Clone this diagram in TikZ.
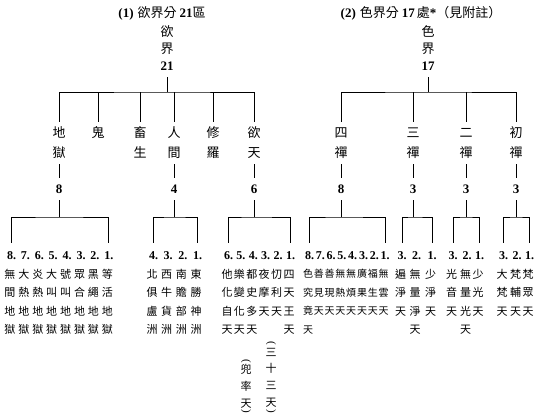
\documentclass[tikz,border=0pt]{standalone}
\usepackage{fontspec}
\setmainfont{Liberation Serif}
\newfontfamily\cjk{Noto Sans CJK TC}
\newfontfamily\numf{Liberation Serif}
\tikzset{
  every node/.style={inner sep=0pt},
  cjkL/.style={font=\cjk\fontsize{13}{13}\selectfont, text height=11.2pt, text depth=1.3pt, inner ysep=5pt},
  numL/.style={font=\numf\bfseries\fontsize{13}{13}\selectfont, text height=8.8pt, text depth=0pt, inner ysep=6.5pt},
  cell/.style={font=\cjk\fontsize{11}{11}\selectfont, text height=9.5pt, text depth=1.1pt},
  cellS/.style={font=\cjk\fontsize{10}{10}\selectfont, text height=8.6pt, text depth=1pt},
  numS/.style={font=\numf\bfseries\fontsize{12}{12}\selectfont, text height=8.2pt, text depth=0pt, inner ysep=8pt},
  parn/.style={font=\numf\fontsize{11}{11}\selectfont, rotate=-90},
  ttl/.style={font=\cjk\fontsize{13}{13}\selectfont},
  conn/.style={line width=0.9pt},
}
% #1 name, #2 cell style, #3 x, #4 number, #5 characters
\newcommand\colm[5]{%
  \node[numS] (#1) at (#3+1.5,255) {#4.};
  \foreach \chr [count=\r] in {#5} {\node[#2] (#1-\r) at (#3,{255.5+18.5*\r}) {\chr};}
}
\begin{document}
\begin{tikzpicture}[x=1pt,y=-1pt]
\useasboundingbox (0,0) rectangle (540,416);

% titles
\node[ttl] (t1) at (162,13) {{\numf\bfseries (1)}\hspace{4pt}欲界分\hspace{3pt}{\numf\bfseries 21}區};
\node[ttl] (t2) at (421,13) {{\numf\bfseries (2)}\hspace{4pt}色界分\hspace{3pt}{\numf\bfseries 17}\hspace{2pt}處{\numf\bfseries *}（見附註）};

% ===== left tree: 欲界 =====
\node[cjkL] (r1a) at (167,32) {欲};
\node[cjkL] (r1b) at (167,49) {界};
\node[numL] (r1n) at (167,66) {21};
\coordinate (r1bar) at (167,92);
\draw[conn] (r1n.south) -- (r1bar);

\node[cjkL] (k1a) at (59,133) {地};  \node[cjkL] (k1b) at (59,153) {獄};
\node[cjkL] (k2a) at (98,133) {鬼};
\node[cjkL] (k3a) at (140,133) {畜}; \node[cjkL] (k3b) at (140,153) {生};
\node[cjkL] (k4a) at (174,133) {人}; \node[cjkL] (k4b) at (174,153) {間};
\node[cjkL] (k5a) at (213,133) {修}; \node[cjkL] (k5b) at (213,153) {羅};
\node[cjkL] (k6a) at (254,133) {欲}; \node[cjkL] (k6b) at (254,153) {天};
\draw[conn] (k1a.north) |- (r1bar) -| (k6a.north);
\foreach \c in {k2a,k3a,k4a,k5a} \draw[conn] (\c.north) -- (\c.north |- r1bar);

\node[numL] (k1n) at (59,189) {8};
\node[numL] (k4n) at (174,189) {4};
\node[numL] (k6n) at (254,189) {6};
\draw[conn] (k1b.south) -- (k1n.north);
\draw[conn] (k4b.south) -- (k4n.north);
\draw[conn] (k6b.south) -- (k6n.north);

% 地獄 8
\colm{h8}{cell}{10}{8}{無,間,地,獄}
\colm{h7}{cell}{23.9}{7}{大,熱,地,獄}
\colm{h6}{cell}{37.8}{6}{炎,熱,地,獄}
\colm{h5}{cell}{51.7}{5}{大,叫,地,獄}
\colm{h4}{cell}{65.6}{4}{號,叫,地,獄}
\colm{h3}{cell}{79.5}{3}{眾,合,地,獄}
\colm{h2}{cell}{93.4}{2}{黑,繩,地,獄}
\colm{h1}{cell}{107.3}{1}{等,活,地,獄}
\coordinate (hbar) at (59,217);
\draw[conn] (k1n.south) -- (hbar);
\draw[conn] (h8.north) |- (hbar) -| (h1.north);

% 人間 4
\colm{m4}{cell}{152}{4}{北,俱,盧,洲}
\colm{m3}{cell}{166.7}{3}{西,牛,貨,洲}
\colm{m2}{cell}{181.3}{2}{南,贍,部,洲}
\colm{m1}{cell}{196}{1}{東,勝,神,洲}
\coordinate (mbar) at (174,217);
\draw[conn] (k4n.south) -- (mbar);
\draw[conn] (m4.north) |- (mbar) -| (m1.north);

% 欲天 6
\colm{d6}{cell}{227}{6}{他,化,自,天}
\colm{d5}{cell}{239.4}{5}{樂,變,化,天}
\colm{d4}{cell}{251.8}{4}{都,史,多,天}
\colm{d3}{cell}{264.2}{3}{夜,摩,天}
\colm{d2}{cell}{276.6}{2}{忉,利,天}
\colm{d1}{cell}{289}{1}{四,天,王,天}
\coordinate (dbar) at (254,217);
\draw[conn] (k6n.south) -- (dbar);
\draw[conn] (d6.north) |- (dbar) -| (d1.north);

% parenthetical notes
\node[parn] (p1o) at (246,361) {(};
\foreach \chr [count=\r] in {兜,率,天} {\node[cell] (p1-\r) at (246,{353+16.7*\r}) {\chr};}
\node[parn] (p1c) at (246,411) {)};
\node[parn] (p2o) at (271,343) {(};
\foreach \chr [count=\r] in {三,十,三,天} {\node[cell] (p2-\r) at (271,{335.3+16.7*\r}) {\chr};}
\node[parn] (p2c) at (271,411) {)};

% ===== right tree: 色界 =====
\node[cjkL] (r2a) at (428,32) {色};
\node[cjkL] (r2b) at (428,49) {界};
\node[numL] (r2n) at (428,66) {17};
\coordinate (r2bar) at (428,92);
\draw[conn] (r2n.south) -- (r2bar);

\node[cjkL] (q1a) at (341,133) {四}; \node[cjkL] (q1b) at (341,153) {禪};
\node[cjkL] (q2a) at (413,133) {三}; \node[cjkL] (q2b) at (413,153) {禪};
\node[cjkL] (q3a) at (466,133) {二}; \node[cjkL] (q3b) at (466,153) {禪};
\node[cjkL] (q4a) at (516,133) {初}; \node[cjkL] (q4b) at (516,153) {禪};
\draw[conn] (q1a.north) |- (r2bar) -| (q4a.north);
\foreach \c in {q2a,q3a} \draw[conn] (\c.north) -- (\c.north |- r2bar);

\node[numL] (q1n) at (341,189) {8};
\node[numL] (q2n) at (413,189) {3};
\node[numL] (q3n) at (466,189) {3};
\node[numL] (q4n) at (516,189) {3};
\foreach \c in {q1,q2,q3,q4} \draw[conn] (\c b.south) -- (\c n.north);

% 四禪 8
\colm{s8}{cellS}{308}{8}{色,究,竟,天}
\colm{s7}{cellS}{318.8}{7}{善,見,天}
\colm{s6}{cellS}{329.6}{6}{善,現,天}
\colm{s5}{cellS}{340.4}{5}{無,熱,天}
\colm{s4}{cellS}{351.2}{4}{無,煩,天}
\colm{s3}{cellS}{362}{3}{廣,果,天}
\colm{s2}{cellS}{372.8}{2}{福,生,天}
\colm{s1}{cellS}{383.6}{1}{無,雲,天}
\coordinate (sbar) at (341,217);
\draw[conn] (q1n.south) -- (sbar);
\draw[conn] (s8.north) |- (sbar) -| (s1.north);

% 三禪 3
\colm{t3}{cell}{400.5}{3}{遍,淨,天}
\colm{t2}{cell}{415}{2}{無,量,淨,天}
\colm{t1}{cell}{430.5}{1}{少,淨,天}
\coordinate (tbar) at (413,217);
\draw[conn] (q2n.south) -- (tbar);
\draw[conn] (t3.north) |- (tbar) -| (t1.north);

% 二禪 3
\colm{e3}{cell}{451.5}{3}{光,音,天}
\colm{e2}{cell}{465.5}{2}{無,量,光,天}
\colm{e1}{cell}{478}{1}{少,光,天}
\coordinate (ebar) at (466,217);
\draw[conn] (q3n.south) -- (ebar);
\draw[conn] (e3.north) |- (ebar) -| (e1.north);

% 初禪 3
\colm{f3}{cell}{502}{3}{大,梵,天}
\colm{f2}{cell}{515.5}{2}{梵,輔,天}
\colm{f1}{cell}{528}{1}{梵,眾,天}
\coordinate (fbar) at (516,217);
\draw[conn] (q4n.south) -- (fbar);
\draw[conn] (f3.north) |- (fbar) -| (f1.north);
\end{tikzpicture}
\end{document}
